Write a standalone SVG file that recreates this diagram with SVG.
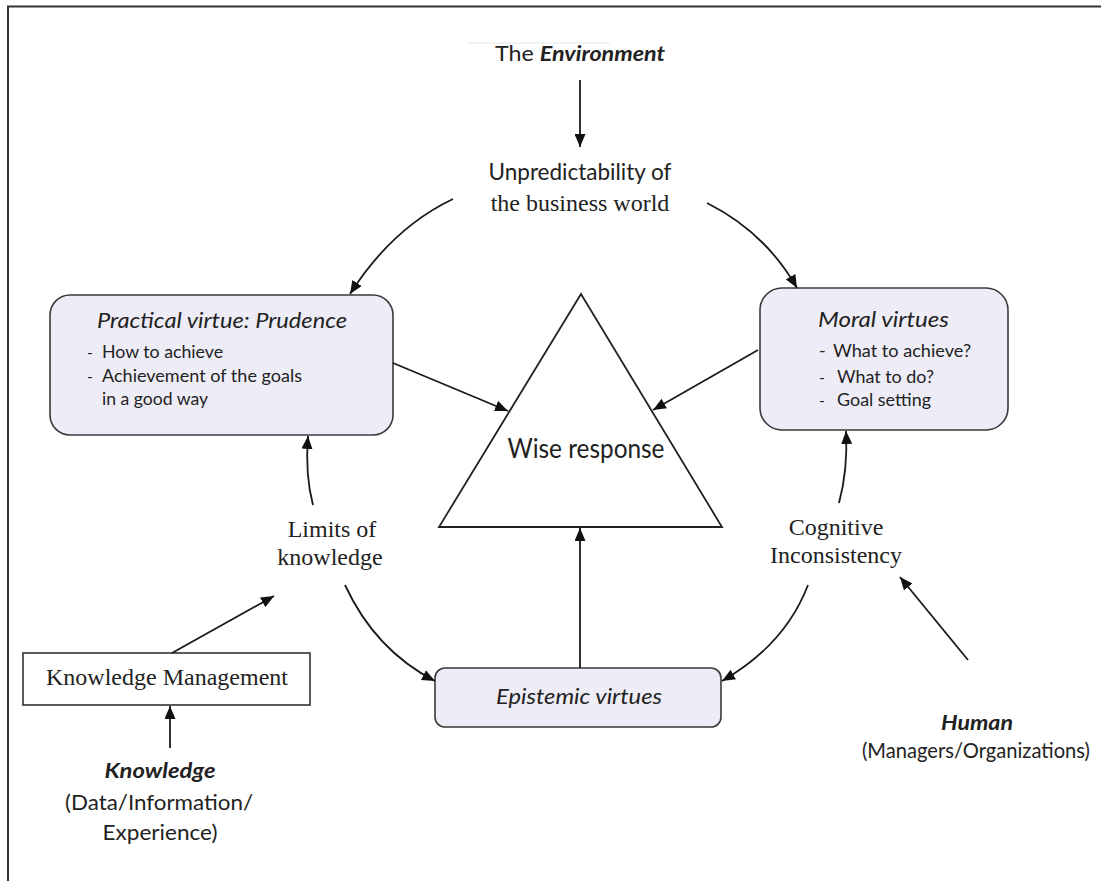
<svg xmlns="http://www.w3.org/2000/svg" width="1101" height="881" viewBox="0 0 1101 881">
  <defs>
    <marker id="arrow" markerUnits="userSpaceOnUse" markerWidth="13" markerHeight="11" refX="13" refY="5.5" orient="auto">
      <path d="M0,0 L13,5.5 L0,11 z" fill="#111"/>
    </marker>
    <style>
      .sans { font-family: Lato, "Open Sans", "Liberation Sans", sans-serif; fill: #222; }
      .serif { font-family: "Liberation Serif", "Times New Roman", serif; fill: #222; }
      .box { fill: #EEEDF7; stroke: #3a3a3a; stroke-width: 1.6; }
      .plain { fill: #fff; stroke: #333; stroke-width: 1.6; }
      .conn path { fill: none; stroke: #1a1a1a; stroke-width: 1.8; marker-end: url(#arrow); }
      .it { font-style: italic; }
      .bi { font-style: italic; font-weight: bold; }
    </style>
  </defs>

  <rect width="1101" height="881" fill="#fff"/>
  <!-- frame: top and left edges only -->
  <path d="M8,881 L8,6.5 L1101,6.5" fill="none" stroke="#333" stroke-width="2"/>

  <g id="environment">
    <line x1="467" y1="43" x2="610" y2="43" stroke="#e6e6e6" stroke-width="1"/>
    <text class="sans" x="580" y="61" font-size="21" text-anchor="middle" textLength="170" lengthAdjust="spacingAndGlyphs">The <tspan class="bi">Environment</tspan></text>
  </g>

  <g id="unpredictability">
    <text class="sans" x="580" y="180" font-size="23" text-anchor="middle" textLength="183" lengthAdjust="spacingAndGlyphs">Unpredictability of</text>
    <text class="serif" x="580" y="211" font-size="24" text-anchor="middle">the business world</text>
  </g>

  <g id="practical">
    <rect class="box" x="50" y="295" width="343" height="140" rx="20"/>
    <text class="sans it" x="222" y="328" font-size="22" text-anchor="middle" textLength="250" lengthAdjust="spacingAndGlyphs">Practical virtue: Prudence</text>
    <text class="sans" x="87" y="358" font-size="16">-</text>
    <text class="sans" x="102" y="358" font-size="17" textLength="121" lengthAdjust="spacingAndGlyphs">How to achieve</text>
    <text class="sans" x="87" y="382" font-size="16">-</text>
    <text class="sans" x="102" y="382" font-size="17" textLength="200" lengthAdjust="spacingAndGlyphs">Achievement of the goals</text>
    <text class="sans" x="102" y="405" font-size="17" textLength="106" lengthAdjust="spacingAndGlyphs">in a good way</text>
  </g>

  <g id="moral">
    <rect class="box" x="760" y="288" width="248" height="142" rx="22"/>
    <text class="sans it" x="818" y="327" font-size="22" textLength="131" lengthAdjust="spacingAndGlyphs">Moral virtues</text>
    <text class="sans" x="819" y="357" font-size="18">-</text>
    <text class="sans" x="833" y="357" font-size="17" textLength="138" lengthAdjust="spacingAndGlyphs">What to achieve?</text>
    <text class="sans" x="819" y="383" font-size="16">-</text>
    <text class="sans" x="837" y="383" font-size="17" textLength="97" lengthAdjust="spacingAndGlyphs">What to do?</text>
    <text class="sans" x="819" y="406" font-size="16">-</text>
    <text class="sans" x="837" y="406" font-size="17" textLength="94" lengthAdjust="spacingAndGlyphs">Goal setting</text>
  </g>

  <g id="wise-response">
    <polygon points="581,294 439,527 722,527" fill="#fff" stroke="#222" stroke-width="1.8" stroke-linejoin="miter"/>
    <text class="sans" x="586" y="458" font-size="26" text-anchor="middle" textLength="157" lengthAdjust="spacingAndGlyphs">Wise response</text>
  </g>

  <g id="limits">
    <text class="serif" x="332" y="537" font-size="24" text-anchor="middle">Limits of</text>
    <text class="serif" x="330" y="565" font-size="24" text-anchor="middle">knowledge</text>
  </g>

  <g id="cognitive">
    <text class="serif" x="836" y="535" font-size="24" text-anchor="middle">Cognitive</text>
    <text class="serif" x="836" y="563" font-size="24" text-anchor="middle">Inconsistency</text>
  </g>

  <g id="epistemic">
    <rect class="box" x="435" y="668" width="286" height="59" rx="10"/>
    <text class="sans it" x="579" y="704" font-size="21" text-anchor="middle" textLength="166" lengthAdjust="spacingAndGlyphs">Epistemic virtues</text>
  </g>

  <g id="knowledge-management">
    <rect class="plain" x="23" y="653" width="287" height="52"/>
    <text class="serif" x="167" y="685" font-size="24" text-anchor="middle">Knowledge Management</text>
  </g>

  <g id="knowledge">
    <text class="sans bi" x="160" y="778" font-size="21" text-anchor="middle" textLength="111" lengthAdjust="spacingAndGlyphs">Knowledge</text>
    <text class="sans" x="159" y="810" font-size="21" text-anchor="middle" textLength="188" lengthAdjust="spacingAndGlyphs">(Data/Information/</text>
    <text class="sans" x="160" y="840" font-size="21" text-anchor="middle" textLength="115" lengthAdjust="spacingAndGlyphs">Experience)</text>
  </g>

  <g id="human">
    <text class="sans bi" x="977" y="730" font-size="21" text-anchor="middle" textLength="72" lengthAdjust="spacingAndGlyphs">Human</text>
    <text class="sans" x="976" y="758" font-size="21" text-anchor="middle" textLength="228" lengthAdjust="spacingAndGlyphs">(Managers/Organizations)</text>
  </g>

  <g id="connectors" class="conn">
    <path d="M580,80 L580,147"/>
    <path d="M453,199 Q392,228 350,294"/>
    <path d="M707,203 Q765,232 797,288"/>
    <path d="M393,363 L508,411"/>
    <path d="M758,350 L653,410"/>
    <path d="M313,505 Q305,475 308,436"/>
    <path d="M345,585 Q375,650 435,681"/>
    <path d="M839,503 Q848,470 846,431"/>
    <path d="M808,585 Q785,645 722,681"/>
    <path d="M580,668 L580,528"/>
    <path d="M172,653 L274,596"/>
    <path d="M170,748 L170,706"/>
    <path d="M968,660 L900,577"/>
  </g>
</svg>
